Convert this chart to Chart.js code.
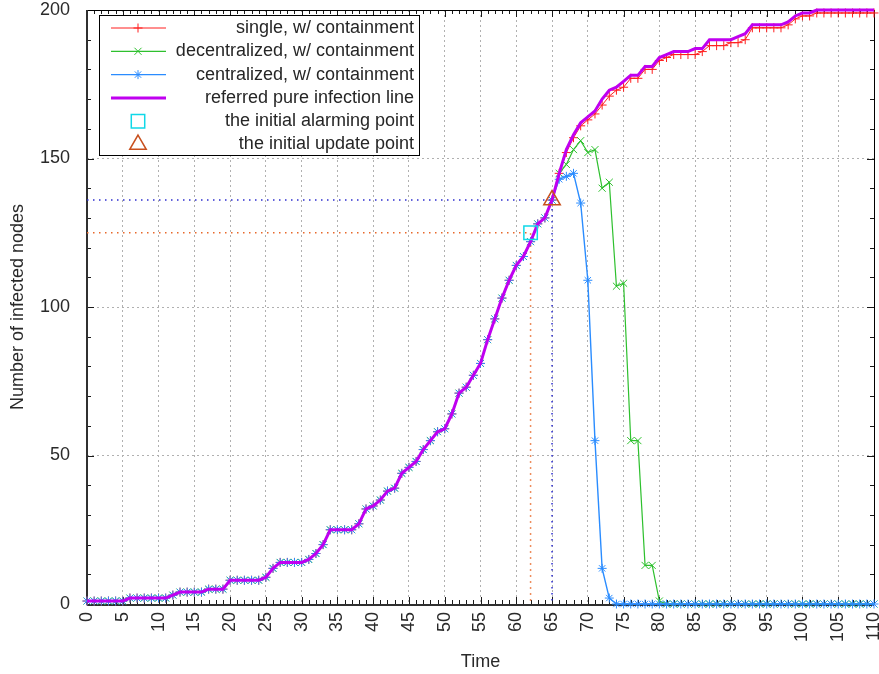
<!DOCTYPE html>
<html>
<head>
<meta charset="utf-8">
<script src="https://cdn.jsdelivr.net/npm/chart.js"></script>
<style>
  body { margin: 0; background: #fff; }
  #wrap { width: 879px; height: 674px; }
</style>
</head>
<body>
<div id="wrap"><canvas id="chart" width="879" height="674"></canvas></div>
<script>
// time steps 0..110
const time = Array.from({ length: 111 }, (_, i) => i);

const pure = [
  1, 1, 1, 1, 1, 1, 2, 2, 2, 2, 2, 2, 3, 4, 4, 4, 4, 5, 5, 5,
  8, 8, 8, 8, 8, 9, 12, 14, 14, 14, 14, 15, 17, 20, 25, 25, 25, 25, 27, 32,
  33, 35, 38, 39, 44, 46, 48, 52, 55, 58, 59, 64, 71, 73, 77, 81, 89, 96, 103, 109,
  114, 117, 122, 128, 130, 136, 145, 153, 158, 162, 164, 166, 170, 173, 174, 176, 178, 178, 181, 181,
  184, 185, 186, 186, 186, 187, 187, 190, 190, 190, 190, 191, 192, 195, 195, 195, 195, 195, 196, 198,
  199, 199, 200, 200, 200, 200, 200, 200, 200, 200, 200
];

const single = [
  1, 1, 1, 1, 1, 1, 2, 2, 2, 2, 2, 2, 3, 4, 4, 4, 4, 5, 5, 5,
  8, 8, 8, 8, 8, 9, 12, 14, 14, 14, 14, 15, 17, 20, 25, 25, 25, 25, 27, 32,
  33, 35, 38, 39, 44, 46, 48, 52, 55, 58, 59, 64, 71, 73, 77, 81, 89, 96, 103, 109,
  114, 117, 122, 128, 130, 136, 145, 152, 157, 161, 163, 165, 168, 171, 173, 174, 177, 177, 180, 180,
  183, 184, 185, 185, 185, 185, 186, 188, 188, 188, 189, 189, 190, 194, 194, 194, 194, 194, 195, 197,
  198, 198, 199, 199, 199, 199, 199, 199, 199, 199, 199
];

const decentralized = [
  1, 1, 1, 1, 1, 1, 2, 2, 2, 2, 2, 2, 3, 4, 4, 4, 4, 5, 5, 5,
  8, 8, 8, 8, 8, 9, 12, 14, 14, 14, 14, 15, 17, 20, 25, 25, 25, 25, 27, 32,
  33, 35, 38, 39, 44, 46, 48, 52, 55, 58, 59, 64, 71, 73, 77, 81, 89, 96, 103, 109,
  114, 117, 122, 128, 130, 136, 145, 148, 153, 156, 152, 153, 140, 142, 107, 108, 55, 55, 13, 13,
  1, 0, 0, 0, 0, 0, 0, 0, 0, 0, 0, 0, 0, 0, 0, 0, 0, 0, 0, 0,
  0, 0, 0, 0, 0, 0, 0, 0, 0, 0, 0
];

const centralized = [
  1, 1, 1, 1, 1, 1, 2, 2, 2, 2, 2, 2, 3, 4, 4, 4, 4, 5, 5, 5,
  8, 8, 8, 8, 8, 9, 12, 14, 14, 14, 14, 15, 17, 20, 25, 25, 25, 25, 27, 32,
  33, 35, 38, 39, 44, 46, 48, 52, 55, 58, 59, 64, 71, 73, 77, 81, 89, 96, 103, 109,
  114, 117, 122, 128, 130, 136, 143, 144, 145, 135, 109, 55, 12, 2, 0, 0, 0, 0, 0, 0,
  0, 0, 0, 0, 0, 0, 0, 0, 0, 0, 0, 0, 0, 0, 0, 0, 0, 0, 0, 0,
  0, 0, 0, 0, 0, 0, 0, 0, 0, 0, 0
];

// the marked points
const alarmT = 62, alarmV = 125;
const updateT = 65, updateV = 136;

const labels = [
  'single, w/ containment',
  'decentralized, w/ containment',
  'centralized, w/ containment',
  'referred pure infection line',
  'the initial alarming point',
  'the initial update point'
];

const FONT = 'Liberation Sans, Arial, sans-serif';
const pts = arr => time.map((t, i) => ({ x: t, y: arr[i] }));

const datasets = [
  { label: labels[0], data: pts(single), borderColor: '#ff1f1f', borderWidth: 1,
    pointStyle: 'cross', pointRadius: 4.5, pointBorderWidth: 1, pointBorderColor: '#ff1f1f', order: 5 },
  { label: labels[1], data: pts(decentralized), borderColor: '#2ec02e', borderWidth: 1.2,
    pointStyle: 'crossRot', pointRadius: 5, pointBorderWidth: 1, pointBorderColor: '#2ec02e', order: 4 },
  { label: labels[2], data: pts(centralized), borderColor: '#2a8cff', borderWidth: 1.4,
    pointStyle: 'star', pointRadius: 4.5, pointBorderWidth: 1, pointBorderColor: '#2a8cff', order: 3 },
  { label: labels[3], data: pts(pure), borderColor: '#c000f0', borderWidth: 3,
    pointRadius: 0, order: 2 },
  { label: labels[4], data: [{ x: alarmT, y: alarmV }], showLine: false,
    pointStyle: 'rect', pointRadius: 9.5, pointBorderWidth: 1.5, pointBorderColor: '#10d8e8',
    pointBackgroundColor: 'rgba(0,0,0,0)', order: 1 },
  { label: labels[5], data: [{ x: updateT, y: updateV }], showLine: false,
    pointStyle: 'triangle', pointRadius: 9.5, pointBorderWidth: 1.5, pointBorderColor: '#c8501e',
    pointBackgroundColor: 'rgba(0,0,0,0)', order: 0 },
  // dotted guides from the two points
  { label: 'alarm guide', data: [{ x: 0, y: alarmV }, { x: alarmT, y: alarmV }, { x: alarmT, y: 0 }],
    borderColor: '#e8682a', borderWidth: 1.5, borderDash: [1.5, 4.5], pointRadius: 0, order: 7 },
  { label: 'update guide', data: [{ x: 0, y: updateV }, { x: updateT, y: updateV }, { x: updateT, y: 0 }],
    borderColor: '#2e2ed0', borderWidth: 1.5, borderDash: [1.5, 4.5], pointRadius: 0, order: 6 }
];
datasets.forEach(d => { d.clip = false; });

// gnuplot style frame and inward ticks, under the data
const framePlugin = {
  id: 'frame',
  beforeDatasetsDraw(chart) {
    const { ctx, chartArea: a, scales: { x, y } } = chart;
    ctx.save();
    ctx.strokeStyle = '#1a1a1a';
    ctx.lineWidth = 1;
    ctx.beginPath();
    for (let t = 0; t <= 110; t++) {
      const px = Math.round(x.getPixelForValue(t)) + 0.5;
      const len = t % 5 === 0 ? 7 : 4;
      ctx.moveTo(px, a.bottom); ctx.lineTo(px, a.bottom - len);
      ctx.moveTo(px, a.top); ctx.lineTo(px, a.top + len);
    }
    for (let v = 0; v <= 200; v += 10) {
      const py = Math.round(y.getPixelForValue(v)) + 0.5;
      const len = v % 50 === 0 ? 7 : 4;
      ctx.moveTo(a.left, py); ctx.lineTo(a.left + len, py);
      ctx.moveTo(a.right, py); ctx.lineTo(a.right - len, py);
    }
    ctx.stroke();

    ctx.strokeStyle = '#000';
    ctx.strokeRect(a.left + 0.5, a.top + 0.5, a.right - a.left, a.bottom - a.top);
    ctx.lineWidth = 2;
    ctx.strokeStyle = '#303030';
    ctx.beginPath();
    ctx.moveTo(a.left, a.top); ctx.lineTo(a.left, a.bottom + 1);
    ctx.moveTo(a.left, a.bottom + 1); ctx.lineTo(a.right, a.bottom + 1);
    ctx.stroke();
    ctx.restore();
  },
  // boxed legend on top
  afterDraw(chart) {
    const { ctx, chartArea: a } = chart;
    ctx.save();
    const bx = a.left + 12, by = a.top + 5, bw = 320, bh = 140;
    ctx.fillStyle = '#fff';
    ctx.fillRect(bx, by, bw, bh);
    ctx.lineWidth = 1;
    ctx.strokeStyle = '#000';
    ctx.strokeRect(bx + 0.5, by + 0.5, bw, bh);

    ctx.font = '18px ' + FONT;
    ctx.textAlign = 'right';
    ctx.textBaseline = 'middle';
    for (let i = 0; i < 6; i++) {
      const ds = datasets[i];
      const ry = by + 13 + i * 23.3;
      const mx = bx + 39;
      if (i < 4) {
        ctx.strokeStyle = ds.borderColor;
        ctx.lineWidth = ds.borderWidth;
        ctx.beginPath();
        ctx.moveTo(bx + 12, ry); ctx.lineTo(bx + 67, ry);
        ctx.stroke();
      }
      if (ds.pointRadius > 0) {
        ctx.strokeStyle = ds.pointBorderColor;
        ctx.fillStyle = 'rgba(0,0,0,0)';
        ctx.lineWidth = ds.pointBorderWidth;
        Chart.helpers.drawPoint(ctx, {
          pointStyle: ds.pointStyle, radius: ds.pointRadius, rotation: 0, borderWidth: ds.pointBorderWidth
        }, mx, ry);
      }
      ctx.fillStyle = '#262626';
      ctx.fillText(labels[i], bx + bw - 5, ry);
    }
    ctx.restore();
  }
};

new Chart(document.getElementById('chart'), {
  type: 'line',
  data: { datasets: datasets },
  options: {
    responsive: false,
    animation: false,
    layout: { autoPadding: false, padding: { top: 10, right: 5, left: 0, bottom: 0 } },
    elements: { line: { tension: 0 } },
    plugins: { legend: { display: false }, tooltip: { enabled: false } },
    scales: {
      x: {
        type: 'linear', min: 0, max: 110,
        ticks: {
          stepSize: 5, autoSkip: false, minRotation: 90, maxRotation: 90,
          padding: 8, color: '#2a2a2a', font: { family: FONT, size: 18 }
        },
        grid: { color: '#b0b0b0', lineWidth: 1, drawTicks: false },
        border: { display: false, dash: [2, 3] },
        title: { display: true, text: 'Time', color: '#2a2a2a',
          font: { family: FONT, size: 18 }, padding: { top: 0, bottom: 1 } },
        afterFit(s) { s.height = 70; s.paddingLeft = 0; s.paddingRight = 0; }
      },
      y: {
        min: 0, max: 200,
        ticks: { stepSize: 50, padding: 17, color: '#2a2a2a', font: { family: FONT, size: 18 } },
        grid: { color: '#b0b0b0', lineWidth: 1, drawTicks: false },
        border: { display: false, dash: [2, 3] },
        title: { display: true, text: 'Number of infected nodes', color: '#2a2a2a',
          font: { family: FONT, size: 18 }, padding: { top: 7, bottom: 0 } },
        afterFit(s) { s.width = 87; s.paddingTop = 0; s.paddingBottom = 0; }
      }
    }
  },
  plugins: [framePlugin]
});
</script>
</body>
</html>
